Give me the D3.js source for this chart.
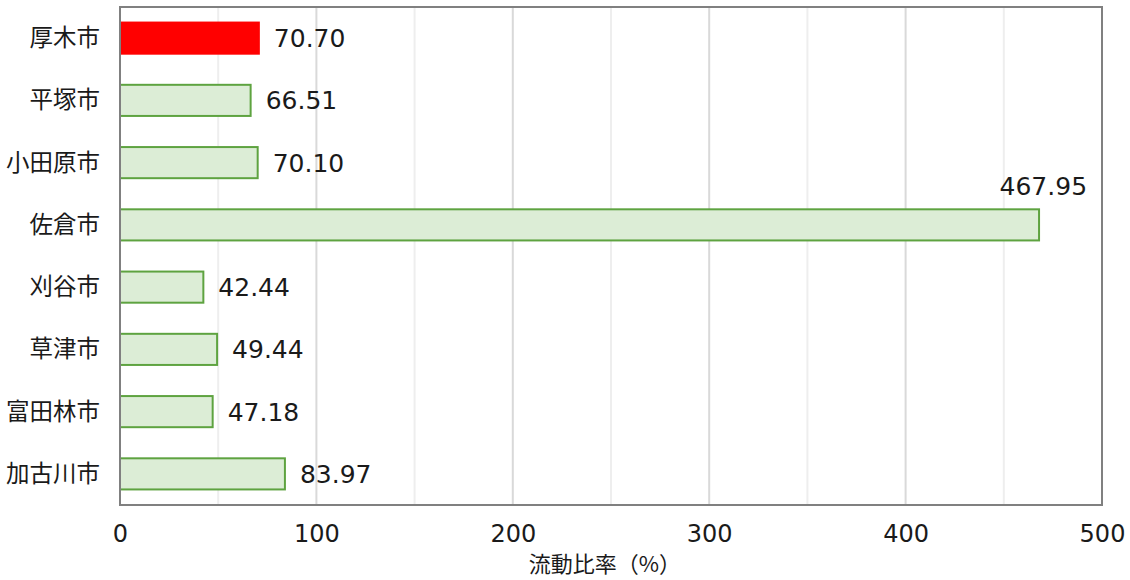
<!DOCTYPE html>
<html>
<head>
<meta charset="utf-8">
<script src="https://cdn.jsdelivr.net/npm/d3@7"></script>
<style>
  html, body { margin: 0; padding: 0; background: #fff; }
  text { font-family: "Noto Sans CJK JP", "Noto Sans", sans-serif; fill: #1a1a1a; }
</style>
</head>
<body>
<svg id="chart" width="1130" height="580"></svg>
<script>
// Current ratio by city
const cities = ["厚木市", "平塚市", "小田原市", "佐倉市", "刈谷市", "草津市", "富田林市", "加古川市"];
const ratios = [70.70, 66.51, 70.10, 467.95, 42.44, 49.44, 47.18, 83.97];
const highlight = ["厚木市"];
const xTicks = [0, 100, 200, 300, 400, 500];
const xGrid = [50, 100, 150, 200, 250, 300, 350, 400, 450];
const xTitle = "流動比率（%）";

const numFont = "'DejaVu Sans', 'Liberation Sans', sans-serif";

const svg = d3.select("#chart");
const m = { left: 120, right: 28, top: 7, bottom: 75 };
const W = 1130, H = 580;
const iw = W - m.left - m.right, ih = H - m.top - m.bottom;

const x = d3.scaleLinear().domain([0, 500]).range([0, iw]);
const y = d3.scaleBand().domain(cities).range([0, ih]).paddingInner(0.5).paddingOuter(0.25);

const g = svg.append("g").attr("transform", `translate(${m.left},${m.top})`);

// gridlines
g.selectAll("line.grid").data(xGrid).join("line")
  .attr("class", "grid")
  .attr("x1", d => x(d)).attr("x2", d => x(d))
  .attr("y1", 0).attr("y2", ih)
  .attr("stroke", d => d % 100 === 0 ? "#d9d9d9" : "#eeeeee")
  .attr("stroke-width", 2);

// bars
g.selectAll("rect.bar").data(cities).join("rect")
  .attr("class", "bar")
  .attr("x", x(0))
  .attr("y", d => y(d))
  .attr("width", (d, i) => x(ratios[i]) - x(0))
  .attr("height", y.bandwidth())
  .attr("fill", d => highlight.includes(d) ? "#ff0000" : "#dcedd6")
  .attr("stroke", d => highlight.includes(d) ? "#ff0000" : "#5ea340")
  .attr("stroke-width", 2);

// value labels (long bars get their label above the bar end)
g.selectAll("text.val").data(cities).join("text")
  .attr("class", "val")
  .each(function (d, i) {
    const t = d3.select(this);
    const v = ratios[i];
    if (x(v) > iw - 80) {
      t.attr("x", x(v) + 48).attr("y", y(d) - 14).attr("text-anchor", "end");
    } else {
      t.attr("x", x(v) + 15).attr("y", y(d) + y.bandwidth() / 2 + 9).attr("text-anchor", "start");
    }
  })
  .style("font-size", "25px")
  .style("font-family", numFont)
  .text((d, i) => ratios[i].toFixed(2));

// frame
g.append("rect").attr("x", 0).attr("y", 0).attr("width", iw).attr("height", ih)
  .attr("fill", "none").attr("stroke", "#808080").attr("stroke-width", 2);

// category axis
g.selectAll("text.cat").data(cities).join("text")
  .attr("class", "cat")
  .attr("x", -20)
  .attr("y", d => y(d) + y.bandwidth() / 2 + 8)
  .attr("text-anchor", "end")
  .style("font-size", "23.5px")
  .text(d => d);

// value axis
const xAxis = d3.axisBottom(x).tickValues(xTicks).tickSize(0).tickPadding(20);
const ax = g.append("g").attr("transform", `translate(0,${ih})`).call(xAxis);
ax.select(".domain").remove();
ax.selectAll("text")
  .style("font-size", "24px")
  .style("font-family", numFont)
  .attr("fill", "#1a1a1a");

g.append("text")
  .attr("x", iw / 2 - 6)
  .attr("y", ih + 67)
  .attr("text-anchor", "middle")
  .style("font-size", "22px")
  .text(xTitle);
</script>
</body>
</html>
